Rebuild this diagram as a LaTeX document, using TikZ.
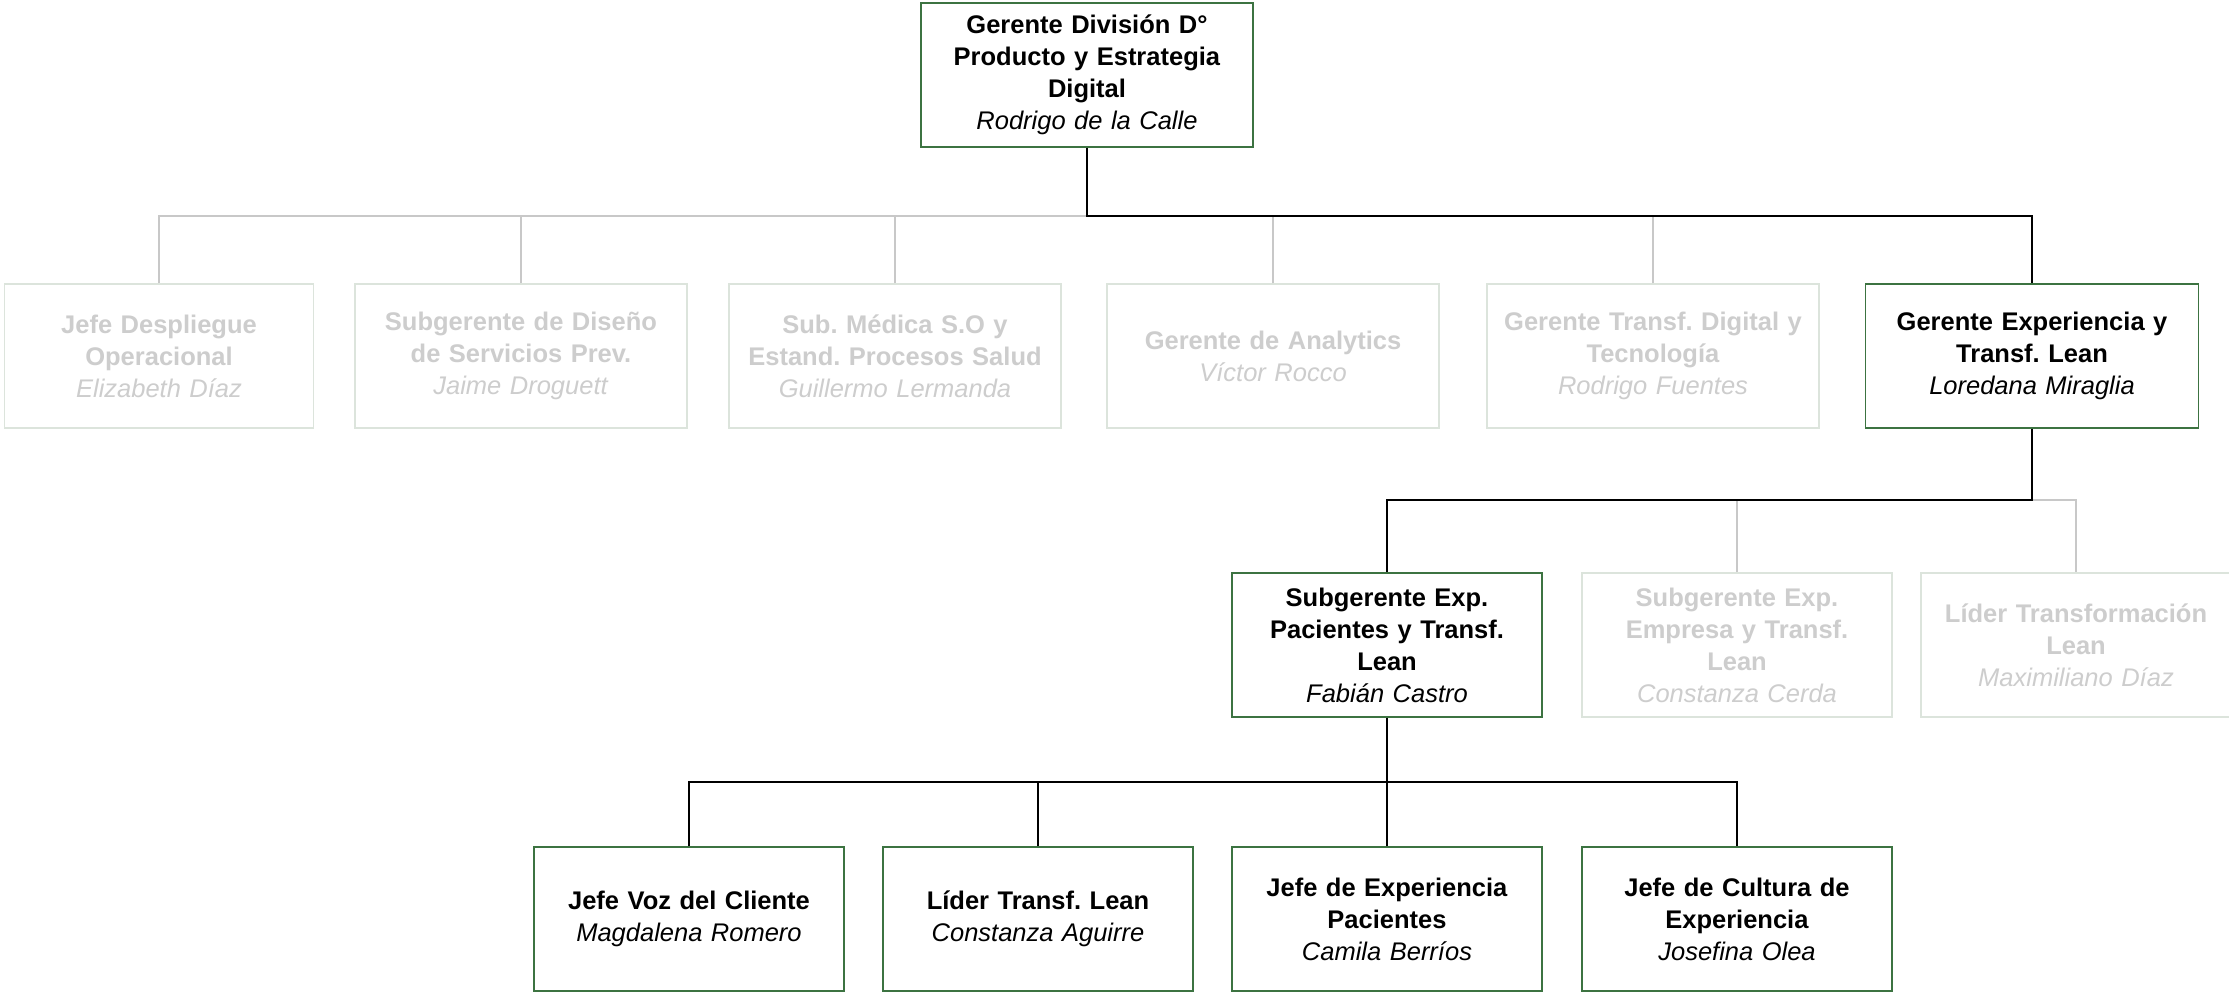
\documentclass[tikz,border=0pt]{standalone}
\usepackage{fontspec}
\setmainfont{Liberation Sans}
\frenchspacing
\definecolor{boxgreen}{RGB}{60,115,65}
\definecolor{fadetext}{RGB}{205,205,205}
\definecolor{fadeborder}{RGB}{220,228,220}
\definecolor{fadeline}{RGB}{200,200,200}
\tikzset{
  orgbox/.style={draw=boxgreen, line width=1.2pt, fill=white, align=center, inner sep=0pt,
    minimum height=144pt, font=\fontsize{25.5}{32}\selectfont\frenchspacing, text=black},
  fadebox/.style={orgbox, draw=fadeborder, text=fadetext},
  mainline/.style={draw=black, line width=2pt},
  fadeconn/.style={draw=fadeline, line width=2pt},
}
\newcommand{\ttl}[1]{\textbf{#1}}
\newcommand{\nm}[1]{\textit{#1}}
\begin{document}
\begin{tikzpicture}[x=1pt,y=-1pt]
\useasboundingbox (0,0) rectangle (2229,992);
% level 0
\node[orgbox, minimum width=332pt, text width=320pt] (top) at (1087,75) {\ttl{Gerente División D°}\\\ttl{Producto y Estrategia}\\\ttl{Digital}\\\nm{Rodrigo de la Calle}};
% level 1
\node[fadebox, minimum width=309pt, text width=300pt] (a1) at (159,356) {\ttl{Jefe Despliegue}\\\ttl{Operacional}\\\nm{Elizabeth Díaz}};
\node[fadebox, minimum width=332pt, text width=322pt] (a2) at (521,356) {\ttl{Subgerente de Diseño}\\\ttl{de Servicios Prev.}\\\nm{Jaime Droguett}};
\node[fadebox, minimum width=332pt, text width=322pt] (a3) at (895,356) {\ttl{Sub. Médica S.O y}\\\ttl{Estand. Procesos Salud}\\\nm{Guillermo Lermanda}};
\node[fadebox, minimum width=332pt, text width=322pt] (a4) at (1273,356) {\ttl{Gerente de Analytics}\\\nm{Víctor Rocco}};
\node[fadebox, minimum width=332pt, text width=322pt] (a5) at (1653,356) {\ttl{Gerente Transf. Digital y}\\\ttl{Tecnología}\\\nm{Rodrigo Fuentes}};
\node[orgbox, minimum width=333pt, text width=322pt] (a6) at (2032,356) {\ttl{Gerente Experiencia y}\\\ttl{Transf. Lean}\\\nm{Loredana Miraglia}};
% level 2
\node[orgbox, minimum width=310pt, text width=300pt] (b1) at (1387,645) {\ttl{Subgerente Exp.}\\\ttl{Pacientes y Transf.}\\\ttl{Lean}\\\nm{Fabián Castro}};
\node[fadebox, minimum width=310pt, text width=300pt] (b2) at (1737,645) {\ttl{Subgerente Exp.}\\\ttl{Empresa y Transf.}\\\ttl{Lean}\\\nm{Constanza Cerda}};
\node[fadebox, minimum width=310pt, text width=300pt] (b3) at (2076,645) {\ttl{Líder Transformación}\\\ttl{Lean}\\\nm{Maximiliano Díaz}};
% level 3
\node[orgbox, minimum width=310pt, text width=300pt] (c1) at (689,919) {\ttl{Jefe Voz del Cliente}\\\nm{Magdalena Romero}};
\node[orgbox, minimum width=310pt, text width=300pt] (c2) at (1038,919) {\ttl{Líder Transf. Lean}\\\nm{Constanza Aguirre}};
\node[orgbox, minimum width=310pt, text width=300pt] (c3) at (1387,919) {\ttl{Jefe de Experiencia}\\\ttl{Pacientes}\\\nm{Camila Berríos}};
\node[orgbox, minimum width=310pt, text width=300pt] (c4) at (1737,919) {\ttl{Jefe de Cultura de}\\\ttl{Experiencia}\\\nm{Josefina Olea}};
% bus coordinates
\coordinate (bus1) at (1087,216);
\coordinate (bus2) at (2032,500);
\coordinate (bus3) at (1387,782);
% faded connectors
\draw[fadeconn] (a1.north) -- (a1.north |- bus1) -- (bus1);
\foreach \n in {a2,a3,a4,a5} \draw[fadeconn] (\n.north) -- (\n.north |- bus1);
\draw[fadeconn] (bus2) -- (b3.north |- bus2) -- (b3.north);
\draw[fadeconn] (b2.north) -- (b2.north |- bus2);
% main connectors
\draw[mainline] (top.south) -- (bus1) -| (a6.north);
\draw[mainline] (a6.south) -- (bus2) -| (b1.north);
\draw[mainline] (b1.south) -- (bus3);
\draw[mainline] (c1.north) |- (bus3) -| (c4.north);
\draw[mainline] (c2.north) -- (c2.north |- bus3);
\draw[mainline] (c3.north) -- (c3.north |- bus3);
\end{tikzpicture}
\end{document}
